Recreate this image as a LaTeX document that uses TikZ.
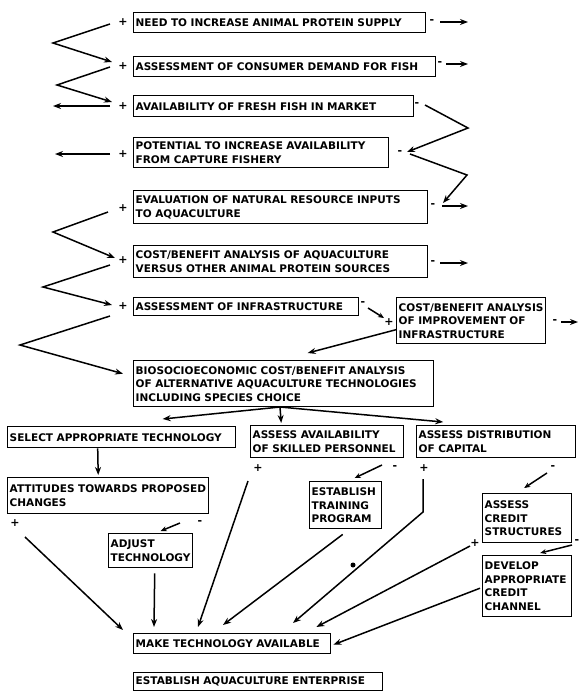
\documentclass[tikz,border=0pt]{standalone}
\usepackage{fontspec}
\setmainfont{DejaVu Sans}[WordSpace=1.8]
\usetikzlibrary{arrows.meta}
\begin{document}
\begin{tikzpicture}[x=1pt,y=-1pt,
  tbox/.style={draw, line width=1.4pt, anchor=north west, align=left,
    inner xsep=2pt, inner ysep=1pt, font=\fontsize{10.5}{13.5}\selectfont\bfseries},
  pm/.style={inner sep=0pt, font=\fontsize{11}{11}\selectfont\bfseries},
  arr/.style={line width=1.5pt, -{Stealth[length=8pt,width=6pt]}},
  sarr/.style={line width=1.5pt, -{Stealth[length=6pt,width=5pt]}},
  ln/.style={line width=1.5pt}]
\useasboundingbox (0,0) rectangle (583,691);
% boxes
\node[tbox, text width=288pt, minimum height=20pt] (b1) at (133,12) {NEED TO INCREASE ANIMAL PROTEIN SUPPLY};
\node[tbox, text width=298pt, minimum height=20pt] (b2) at (133,56) {ASSESSMENT OF CONSUMER DEMAND FOR FISH};
\node[tbox, text width=276pt, minimum height=21pt] (b3) at (133,95) {AVAILABILITY OF FRESH FISH IN MARKET};
\node[tbox, text width=251pt, minimum height=30pt] (b4) at (133,137) {POTENTIAL TO INCREASE AVAILABILITY\\FROM CAPTURE FISHERY};
\node[tbox, text width=290pt, minimum height=33pt] (b5) at (133,190) {EVALUATION OF NATURAL RESOURCE INPUTS\\TO AQUACULTURE};
\node[tbox, text width=290pt, minimum height=32pt] (b6) at (133,245) {COST/BENEFIT ANALYSIS OF AQUACULTURE\\VERSUS OTHER ANIMAL PROTEIN SOURCES};
\node[tbox, text width=221pt, minimum height=18pt] (b7) at (133,297) {ASSESSMENT OF INFRASTRUCTURE};
\node[tbox, text width=145pt, minimum height=46pt] (b8) at (396,297) {COST/BENEFIT ANALYSIS\\OF IMPROVEMENT OF\\INFRASTRUCTURE};
\node[tbox, text width=296pt, minimum height=46pt] (b9) at (133,360) {BIOSOCIOECONOMIC COST/BENEFIT ANALYSIS\\OF ALTERNATIVE AQUACULTURE TECHNOLOGIES\\INCLUDING SPECIES CHOICE};
\node[tbox, text width=224pt, minimum height=21pt] (sel) at (7,426) {SELECT APPROPRIATE TECHNOLOGY};
\node[tbox, text width=149pt, minimum height=32pt] (skl) at (250,425) {ASSESS AVAILABILITY\\OF SKILLED PERSONNEL};
\node[tbox, text width=155pt, minimum height=32pt] (dis) at (416,425) {ASSESS DISTRIBUTION\\OF CAPITAL};
\node[tbox, text width=197pt, minimum height=36pt] (att) at (7,477) {ATTITUDES TOWARDS PROPOSED\\CHANGES};
\node[tbox, text width=80pt, minimum height=34pt] (adj) at (108,533) {ADJUST\\TECHNOLOGY};
\node[tbox, text width=68pt, minimum height=47pt] (trn) at (309,481) {ESTABLISH\\TRAINING\\PROGRAM};
\node[tbox, text width=85pt, minimum height=49pt] (crd) at (482,493) {ASSESS\\CREDIT\\STRUCTURES};
\node[tbox, text width=85pt, minimum height=61pt] (dev) at (482,555) {DEVELOP\\APPROPRIATE\\CREDIT\\CHANNEL};
\node[tbox, text width=193pt, minimum height=20pt] (mak) at (133,633) {MAKE TECHNOLOGY AVAILABLE};
\node[tbox, text width=245pt, minimum height=18pt] (est) at (133,672) {ESTABLISH AQUACULTURE ENTERPRISE};
% plus / minus signs
\node[pm] (p1) at (123,22) {+};
\node[pm] (p2) at (123,66) {+};
\node[pm] (p3) at (123,106) {+};
\node[pm] (p4) at (123,154) {+};
\node[pm] (p5) at (123,208) {+};
\node[pm] (p6) at (123,260) {+};
\node[pm] (p7) at (123,306) {+};
\node[pm] (p8) at (389,322) {+};
\node[pm] (m1) at (432,22) {-};
\node[pm] (m2) at (440,64) {-};
\node[pm] (m3) at (417,105) {-};
\node[pm] (m4) at (400,153) {-};
\node[pm] (m5) at (433,206) {-};
\node[pm] (m6) at (433,263) {-};
\node[pm] (m7) at (363,304) {-};
\node[pm] (m8) at (555,322) {-};
\node[pm] (pa) at (15,523) {+};
\node[pm] (ma) at (200,523) {-};
\node[pm] (ps) at (258,468) {+};
\node[pm] (ms) at (395,468) {-};
\node[pm] (pd) at (424,468) {+};
\node[pm] (md) at (553,468) {-};
\node[pm] (pc) at (475,543) {+};
\node[pm] (mc) at (577,542) {-};
\node[circle, fill, inner sep=0pt, minimum size=5pt] (dot) at (353,565) {};
% bend and free-end coordinates
\coordinate (k1) at (53,43);
\coordinate (k2) at (57,85);
\coordinate (l3) at (53,106);
\coordinate (l4) at (55,154);
\coordinate (k5) at (53,232);
\coordinate (k6) at (43,287);
\coordinate (k7) at (20,345);
\coordinate (ra) at (468,128);
\coordinate (rb) at (467,175);
\coordinate (r1) at (468,22);
\coordinate (r2) at (468,64);
\coordinate (r5) at (468,206);
\coordinate (r6) at (468,263);
\coordinate (r8) at (578,322);
\coordinate (bs) at (280,407);
\coordinate (kd) at (423,512);
% left zigzags
\draw[arr] ([xshift=-13pt,yshift=-2pt]p1.center) -- (k1) -- ([xshift=-11pt,yshift=4pt]p2.center);
\draw[arr] ([xshift=-13pt,yshift=-1pt]p2.center) -- (k2) -- ([xshift=-11pt,yshift=4pt]p3.center);
\draw[arr] ([xshift=-13pt]p3.center) -- (l3);
\draw[arr] ([xshift=-13pt]p4.center) -- (l4);
\draw[arr] ([xshift=-15pt,yshift=-4pt]p5.center) -- (k5) -- ([xshift=-8pt,yshift=2pt]p6.center);
\draw[arr] ([xshift=-13pt,yshift=-5pt]p6.center) -- (k6) -- ([xshift=-11pt,yshift=1pt]p7.center);
\draw[arr] ([xshift=-13pt,yshift=-10pt]p7.center) -- (k7) -- ([xshift=-10pt,yshift=10pt]b9.west);
% right side
\draw[arr] ([xshift=8pt]m1.center) -- (r1);
\draw[arr] ([xshift=6pt]m2.center) -- (r2);
\draw[arr] ([xshift=8pt]m3.center) -- (ra) -- ([xshift=7pt,yshift=1pt]m4.center);
\draw[arr] ([xshift=10pt,yshift=-1pt]m4.center) -- (rb) -- ([xshift=10pt,yshift=3pt]m5.center);
\draw[arr] ([xshift=9pt]m5.center) -- (r5);
\draw[arr] ([xshift=7pt]m6.center) -- (r6);
\draw[arr] ([xshift=6pt]m8.center) -- (r8);
\draw[sarr] ([xshift=5pt,yshift=-4pt]m7.center) -- ([xshift=-5pt,yshift=4pt]p8.center);
\draw[arr] ([yshift=-9pt]b8.west) -- ([xshift=24pt,yshift=7pt]b9.north);
% from b9
\draw[arr] (bs) -- ([xshift=41pt,yshift=7pt]sel.north);
\draw[arr] (bs) -- ([xshift=-46pt,yshift=2pt]skl.north);
\draw[arr] (bs) -- ([xshift=-53pt,yshift=3pt]dis.north);
\draw[arr] ([xshift=-24pt]sel.south) -- ([xshift=-10pt,yshift=2pt]att.north);
% lower part
\draw[sarr] ([xshift=-20pt]ma.center) -- ([xshift=10pt,yshift=2pt]adj.north);
\draw[arr] ([xshift=10pt,yshift=-14pt]pa.center) -- ([xshift=-10pt,yshift=3pt]mak.north west);
\draw[arr] ([xshift=4pt,yshift=-5pt]adj.south) -- ([xshift=21pt,yshift=6pt]mak.north west);
\draw[sarr] ([xshift=-13pt,yshift=3pt]ms.center) -- ([xshift=9pt,yshift=3pt]trn.north);
\draw[arr] ([xshift=-10pt,yshift=-13pt]ps.center) -- ([xshift=65pt,yshift=6pt]mak.north west);
\draw[arr] ([xshift=-3pt,yshift=-5pt]trn.south) -- ([xshift=90pt,yshift=8pt]mak.north west);
\draw[arr] ([xshift=-1pt,yshift=-11pt]pd.center) -- (kd) -- ([xshift=160pt,yshift=10pt]mak.north west);
\draw[sarr] ([xshift=-6pt,yshift=-5pt]md.center) -- ([xshift=-3pt,yshift=5pt]crd.north);
\draw[arr] ([xshift=-5pt,yshift=-3pt]pc.center) -- ([xshift=-15pt,yshift=6pt]mak.north east);
\draw[sarr] ([xshift=-5pt,yshift=-3pt]mc.center) -- ([xshift=13pt,yshift=2pt]dev.north);
\draw[arr] ([xshift=-2pt,yshift=-2pt]dev.west) -- ([xshift=2pt,yshift=-1pt]mak.east);
\end{tikzpicture}
\end{document}
